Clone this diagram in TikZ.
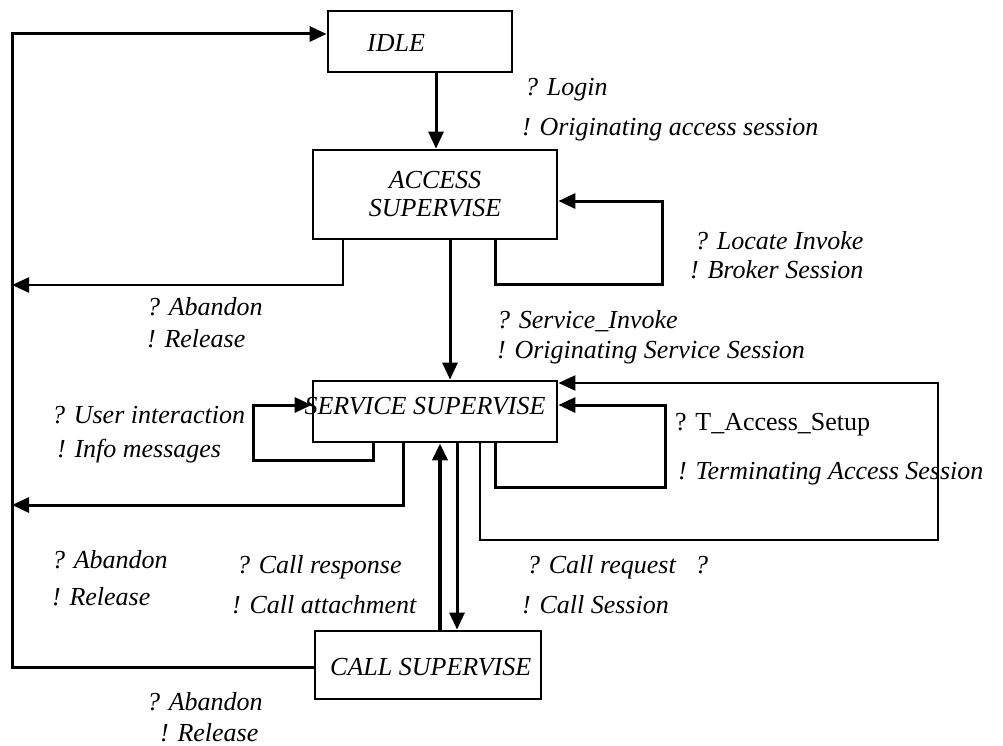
\documentclass[tikz,border=0pt]{standalone}
\usepackage{fontspec}
\setmainfont{Liberation Serif}
\usetikzlibrary{arrows.meta}
\begin{document}
\begin{tikzpicture}[x=1pt,y=-1pt,
  statebox/.style={draw,line width=2.8pt,inner sep=0pt},
  ln/.style={line width=3pt},
  thin ln/.style={line width=2.2pt},
  arr/.style={-{Triangle[length=17pt,width=15pt]}},
  lbl/.style={anchor=west,inner sep=0pt,font=\fontsize{26}{28}\selectfont\itshape},
  ulbl/.style={anchor=west,inner sep=0pt,font=\fontsize{26}{28}\selectfont},
  stxt/.style={inner sep=0pt,font=\fontsize{26}{28}\selectfont\itshape}
]
\useasboundingbox (0,0) rectangle (1003,746);
% boxes
\node[statebox,minimum width=184pt,minimum height=61pt] (idle) at (420,41.5) {};
\node[stxt,anchor=west] (idlet) at (367,43) {IDLE};
\node[statebox,minimum width=244pt,minimum height=89pt] (access) at (435,194.5) {};
\node[stxt,align=center] (accesst) at (435,194) {ACCESS\\SUPERVISE};
\node[statebox,minimum width=244pt,minimum height=61pt] (service) at (435,411.5) {};
\node[stxt] (servicet) at (425,406) {SERVICE SUPERVISE};
\node[statebox,minimum width=226pt,minimum height=68pt] (call) at (428,665) {};
\node[stxt,anchor=west] (callt) at (330,667) {CALL SUPERVISE};
% coordinates
\coordinate (l1) at (12,667);
\coordinate (l2) at (12,34);
\coordinate (a1) at (495,284);
\coordinate (a2) at (662,284);
\coordinate (a3) at (662,201);
\coordinate (b1) at (343,285);
\coordinate (b2) at (12,285);
\coordinate (s1) at (373,460);
\coordinate (s2) at (253,460);
\coordinate (s3) at (253,405);
\coordinate (c1) at (403,505);
\coordinate (c2) at (12,505);
\coordinate (d1) at (495,487);
\coordinate (d2) at (665,487);
\coordinate (d3) at (665,405);
\coordinate (e1) at (480,540);
\coordinate (e2) at (938,540);
\coordinate (e3) at (938,383);
% connectors
\draw[ln,arr] (call.west |- l1) -- (l1) -- (l2) -- (idle.west |- l2);
\draw[ln,arr] (idle.south -| 436,0) -- (access.north -| 436,0);
\draw[ln,arr] (access.south -| a1) -- (a1) -- (a2) -- (a3) -- (access.east |- a3);
\draw[thin ln,arr] (access.south -| b1) -- (b1) -- (b2);
\draw[ln,arr] (access.south -| 450,0) -- (service.north -| 450,0);
\draw[ln,arr] (service.south -| s1) -- (s1) -- (s2) -- (s3) -- (service.west |- s3);
\draw[ln,arr] (service.south -| c1) -- (c1) -- (c2);
\draw[ln,arr] (service.south -| d1) -- (d1) -- (d2) -- (d3) -- (service.east |- d3);
\draw[thin ln,arr] (service.south -| e1) -- (e1) -- (e2) -- (e3) -- (service.east |- e3);
\draw[line width=3.8pt,arr] (call.north -| 440,0) -- (service.south -| 440,0);
\draw[ln,arr] (service.south -| 457,0) -- (call.north -| 457,0);
% labels
\node[lbl] (t1) at (525,90) {? Login};
\node[lbl] (t2) at (522,130) {! Originating access session};
\node[lbl] (t3) at (695,241) {? Locate Invoke};
\node[lbl] (t4) at (690,270) {! Broker Session};
\node[lbl] (t5) at (147,307) {? Abandon};
\node[lbl] (t6) at (147,339) {! Release};
\node[lbl] (t7) at (497,321) {? Service\_Invoke};
\node[lbl] (t8) at (497,353) {! Originating Service Session};
\node[lbl] (t9) at (52,415) {? User interaction};
\node[lbl] (t10) at (57,451) {! Info messages};
\node[ulbl] (t11) at (675,425) {? T\_Access\_Setup};
\node[lbl] (t12) at (678,474) {! Terminating Access Session};
\node[lbl] (t13) at (52,560) {? Abandon};
\node[lbl] (t14) at (52,597) {! Release};
\node[lbl] (t15) at (237,567) {? Call response};
\node[lbl] (t16) at (232,605) {! Call attachment};
\node[lbl] (t17) at (527,567) {? Call request\ \ \ ?};
\node[lbl] (t18) at (522,605) {! Call Session};
\node[lbl] (t19) at (147,702) {? Abandon};
\node[lbl] (t20) at (160,733) {! Release};
\end{tikzpicture}
\end{document}
